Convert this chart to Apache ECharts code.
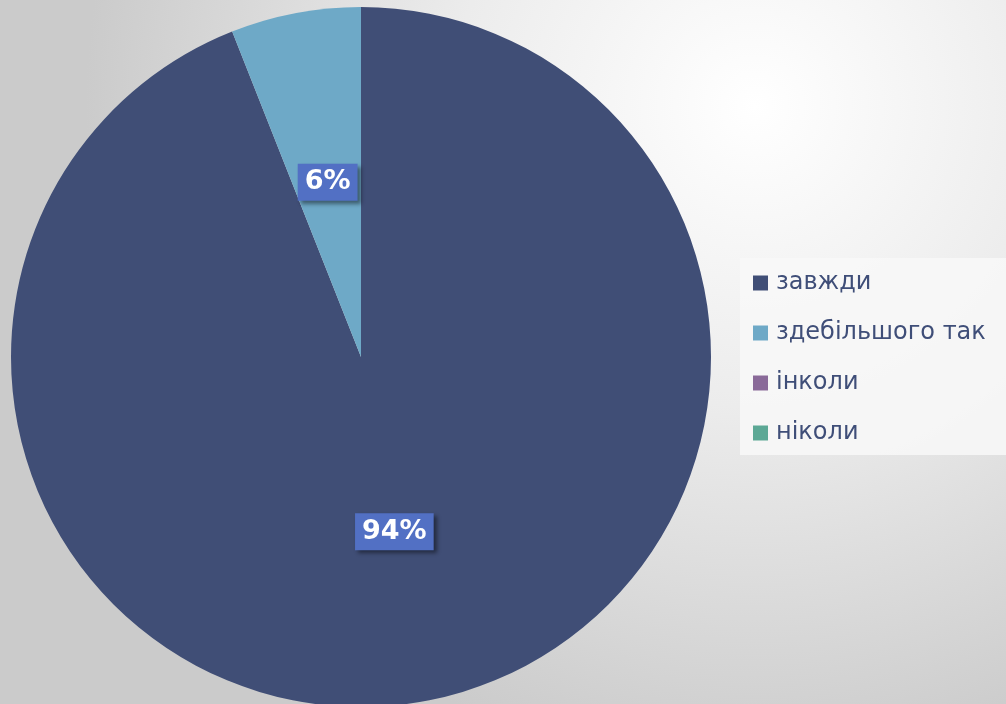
<!DOCTYPE html>
<html>
<head>
<meta charset="utf-8">
<script src="https://cdn.jsdelivr.net/npm/echarts@6/dist/echarts.min.js"></script>
<style>
  html, body { margin: 0; padding: 0; }
  #chart { width: 1006px; height: 704px; }
</style>
</head>
<body>
<div id="chart"></div>
<script>
(function() {
  const categories = ['завжди', 'здебільшого так', 'інколи', 'ніколи'];
  const values = [94, 6, 0, 0];
  const colors = ['#404e76', '#6ea9c7', '#8a6a99', '#5ca895'];

  const chart = echarts.init(document.getElementById('chart'));

  const option = {
    animation: false,
    backgroundColor: {
      type: 'radial',
      x: 0.75, y: 0.15, r: 0.95,
      colorStops: [
        { offset: 0, color: '#ffffff' },
        { offset: 0.45, color: '#ececec' },
        { offset: 1, color: '#cbcbcb' }
      ]
    },
    color: colors,
    legend: {
      orient: 'vertical',
      left: 740,
      top: 258,
      width: 300,
      padding: [13, 60, 10, 13],
      backgroundColor: 'rgba(248,248,248,0.85)',
      itemGap: 26,
      icon: 'rect',
      itemWidth: 15,
      itemHeight: 15,
      selectedMode: false,
      textStyle: {
        fontFamily: 'DejaVu Sans',
        fontSize: 24,
        color: '#3f4e78',
        padding: [0, 0, 0, 3]
      },
      data: categories
    },
    series: [
      {
        type: 'pie',
        center: [361, 357],
        radius: [0, 350],
        startAngle: 90,
        clockwise: true,
        silent: true,
        minAngle: 0,
        stillShowZeroSum: false,
        data: categories.map((name, i) => ({ name: name, value: values[i] })),
        label: {
          show: true,
          position: 'inside',
          formatter: (p) => p.value > 0 ? p.value + '%' : '',
          fontFamily: 'DejaVu Sans',
          fontWeight: 'bold',
          fontSize: 27,
          color: '#ffffff',
          backgroundColor: '#5270c4',
          padding: [6, 7, 4, 7],
          shadowColor: 'rgba(0,0,0,0.45)',
          shadowBlur: 4,
          shadowOffsetX: 3,
          shadowOffsetY: 3
        },
        labelLine: { show: false },
        itemStyle: { borderWidth: 0 }
      }
    ]
  };

  chart.setOption(option);
  window.addEventListener('resize', () => chart.resize());
})();
</script>
</body>
</html>
